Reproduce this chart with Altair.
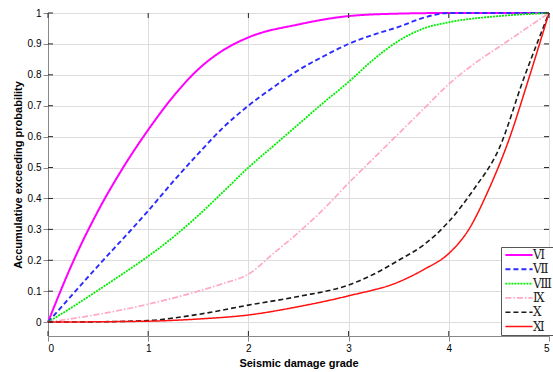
import altair as alt
import pandas as pd

# ---- data ----
series_names = ["Ⅵ", "Ⅶ", "Ⅷ", "Ⅸ", "Ⅹ", "Ⅺ"]

x_VI = [0, 0.25, 0.5, 0.75, 1, 1.25, 1.5, 1.75, 2, 2.5, 3, 3.5, 4, 5]
y_VI = [0, 0.195, 0.36, 0.50, 0.622, 0.73, 0.818, 0.88, 0.921, 0.963, 0.99, 0.998, 1, 1]

x_VII = [0, 0.5, 1, 1.25, 1.5, 1.75, 2, 2.25, 2.5, 2.75, 3, 3.25, 3.5, 3.75, 4, 5]
y_VII = [0, 0.182, 0.36, 0.455, 0.545, 0.63, 0.70, 0.76, 0.815, 0.86, 0.90, 0.93, 0.955, 0.985, 1, 1]

x_VIII = [0, 0.25, 0.5, 0.75, 1, 1.25, 1.5, 1.75, 2, 2.25, 2.5, 2.75, 3, 3.25, 3.5, 3.75, 4, 4.5, 5]
y_VIII = [0, 0.05, 0.103, 0.157, 0.213, 0.275, 0.345, 0.422, 0.50, 0.57, 0.64, 0.71, 0.777, 0.85, 0.91, 0.95, 0.97, 0.99, 1]

x_IX = [0, 0.5, 1, 1.5, 1.75, 2, 2.25, 2.5, 2.75, 3, 3.25, 3.5, 3.75, 4, 4.25, 4.5, 4.75, 5]
y_IX = [0, 0.025, 0.058, 0.10, 0.125, 0.155, 0.222, 0.29, 0.365, 0.45, 0.53, 0.61, 0.69, 0.77, 0.835, 0.89, 0.945, 1]

x_X = [0, 0.5, 1, 1.5, 2, 2.5, 3, 3.25, 3.5, 3.75, 4, 4.25, 4.5, 4.75, 5]
y_X = [0, 0.001, 0.005, 0.025, 0.055, 0.083, 0.12, 0.155, 0.20, 0.25, 0.325, 0.43, 0.56, 0.79, 1]

x_XI = [0, 1, 1.5, 2, 2.5, 3, 3.5, 3.75, 4, 4.2, 4.4, 4.6, 4.8, 5]
y_XI = [0, 0.003, 0.01, 0.023, 0.05, 0.085, 0.13, 0.17, 0.222, 0.30, 0.43, 0.59, 0.79, 1]

x_ticks = [0, 1, 2, 3, 4, 5]
y_ticks = [0, 0.1, 0.2, 0.3, 0.4, 0.5, 0.6, 0.7, 0.8, 0.9, 1]

colors = ["#FF00FF", "#2B2BFF", "#00EE00", "#FFA8C8", "#1A1A1A", "#FF1010"]
dashes = [[1, 0], [5, 3], [2, 1], [6, 2, 1.5, 2], [5, 3], [1, 0]]
widths = [2, 1.5, 2, 1.2, 1.5, 1.5]

xs = [x_VI, x_VII, x_VIII, x_IX, x_X, x_XI]
ys = [y_VI, y_VII, y_VIII, y_IX, y_X, y_XI]

rows = []
for name, xv, yv in zip(series_names, xs, ys):
    for i, (a, b) in enumerate(zip(xv, yv)):
        rows.append({"grade": a, "prob": b, "level": name, "order": i})
df = pd.DataFrame(rows)

W, H = 501, 323
font = "Liberation Sans"

xscale = alt.Scale(domain=[0, 5], nice=False)
yscale = alt.Scale(domain=[-0.045, 1], nice=False, zero=False)
xaxis = alt.Axis(values=x_ticks, title="Seismic damage grade", format="d")
yaxis = alt.Axis(values=y_ticks, title="Accumulative exceeding probability", format="~g")

legend_kw = dict(title=None, orient="none", legendX=453, legendY=234,
                 symbolType="M-3.4,0H3.4", symbolSize=64, symbolStrokeWidth=1.5,
                 symbolOffset=10, labelOffset=8,
                 labelFont="DejaVu Serif", labelFontSize=12,
                 labelColor="#222", strokeColor="#555", fillColor="white",
                 padding=2, rowPadding=2.3)

lines = alt.Chart(df).mark_line(interpolate="monotone").encode(
    x=alt.X("grade:Q", scale=xscale, axis=xaxis),
    y=alt.Y("prob:Q", scale=yscale, axis=yaxis),
    color=alt.Color("level:N", scale=alt.Scale(domain=series_names, range=colors),
                    sort=series_names, legend=alt.Legend(**legend_kw)),
    strokeDash=alt.StrokeDash("level:N", scale=alt.Scale(domain=series_names, range=dashes),
                              sort=series_names, legend=alt.Legend(**legend_kw)),
    strokeWidth=alt.StrokeWidth("level:N", scale=alt.Scale(domain=series_names, range=widths),
                                legend=None),
    order="order:Q",
)

xt = pd.DataFrame({"grade": x_ticks})
yt = pd.DataFrame({"prob": y_ticks})
tick_color = "#262626"

xt_bottom = alt.Chart(xt).mark_rule(color=tick_color, strokeWidth=1).encode(
    x=alt.X("grade:Q", scale=xscale, axis=xaxis), y=alt.value(H - 5), y2=alt.value(H))
xt_top = alt.Chart(xt).mark_rule(color=tick_color, strokeWidth=1).encode(
    x=alt.X("grade:Q", scale=xscale, axis=xaxis), y=alt.value(0), y2=alt.value(5))
yt_left = alt.Chart(yt).mark_rule(color=tick_color, strokeWidth=1).encode(
    y=alt.Y("prob:Q", scale=yscale, axis=yaxis), x=alt.value(0), x2=alt.value(5))
yt_right = alt.Chart(yt).mark_rule(color=tick_color, strokeWidth=1).encode(
    y=alt.Y("prob:Q", scale=yscale, axis=yaxis), x=alt.value(W - 5), x2=alt.value(W))

chart = alt.layer(lines, xt_bottom, xt_top, yt_left, yt_right).properties(
    width=W, height=H,
    padding={"left": 48, "top": 13, "right": 4, "bottom": 36},
    autosize="none",
).configure_view(
    stroke="#262626", strokeWidth=1
).configure_axis(
    labelFont=font, labelFontWeight="bold", labelFontSize=11.5, labelColor="#262626",
    titleFont=font, titleFontWeight="bold", titleFontSize=12, titleColor="#000",
    gridColor="#E3E3E3", gridWidth=1, domainColor="#262626", ticks=False,
    labelPadding=5,
).configure_axisY(
    titlePadding=5
).configure_axisX(
    titlePadding=2, labelPadding=7
).configure(background="white")

chart.save("out.html", embed_options={"renderer": "svg", "actions": False})
